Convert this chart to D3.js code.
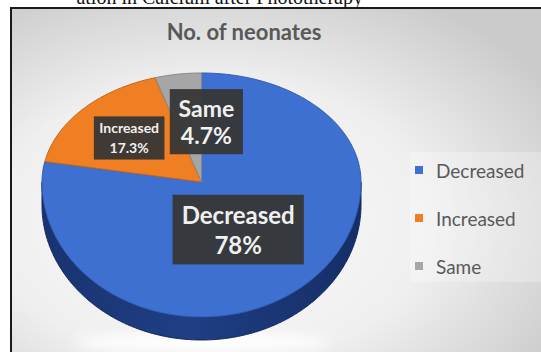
<!DOCTYPE html>
<html>
<head>
<meta charset="utf-8">
<script src="https://cdn.jsdelivr.net/npm/d3@7"></script>
<style>
  html, body { margin: 0; padding: 0; background: #ffffff; overflow: hidden; }
  svg { display: block; }
</style>
</head>
<body>
<svg id="chart" width="541" height="352"></svg>
<script>
// Outcome groups and their share of neonates (%)
const categories = ["Decreased", "Increased", "Same"];
const values = [78, 17.3, 4.7];
const colors = ["#3e70d2", "#f07e22", "#a6a6a6"];
const chartTitle = "No. of neonates";
const caption = "ation in Calcium after Phototherapy";

const W = 541, H = 352;
const svg = d3.select("#chart");
const defs = svg.append("defs");

// caption line above the chart frame
svg.append("text")
  .attr("x", 363).attr("y", 4)
  .attr("text-anchor", "end")
  .attr("font-family", "Liberation Serif, Times New Roman, serif")
  .attr("font-size", 20)
  .attr("fill", "#111")
  .text(caption);

// chart area background
const bg = defs.append("radialGradient").attr("id", "bg")
  .attr("cx", "0.38").attr("cy", "0.62").attr("r", "0.75");
bg.append("stop").attr("offset", "0").attr("stop-color", "#fbfbfb");
bg.append("stop").attr("offset", "0.55").attr("stop-color", "#efefef");
bg.append("stop").attr("offset", "1").attr("stop-color", "#cbcbcb");

const frame = { x: 11, y: 8 };
svg.append("rect")
  .attr("x", frame.x).attr("y", frame.y)
  .attr("width", W - frame.x + 2).attr("height", H - frame.y + 2)
  .attr("fill", "url(#bg)")
  .attr("stroke", "#1a1a1a").attr("stroke-width", 2);

// title
svg.append("text")
  .attr("x", 244).attr("y", 40)
  .attr("text-anchor", "middle")
  .attr("font-family", "Lato, 'Open Sans', sans-serif")
  .attr("font-weight", 700)
  .attr("font-size", 22)
  .attr("fill", "#595959")
  .text(chartTitle);

// ---- 3D pie geometry (perspective: front half taller than back half)
const cx = 201.5, cy = 182, rx = 159.5, ryBack = 109, ryFront = 135, depth = 23;
function proj(a, f, z) {
  const s = Math.sin(a), c = Math.cos(a);
  return [cx + rx * f * s, cy - (c >= 0 ? ryBack : ryFront) * f * c + (z || 0)];
}
function arcPoints(a0, a1, f, z) {
  const n = Math.max(2, Math.ceil(Math.abs(a1 - a0) / 0.01));
  return d3.range(n + 1).map(i => proj(a0 + (a1 - a0) * i / n, f, z));
}

const pie = d3.pie().sort(null).value(d => d).startAngle(0).endAngle(2 * Math.PI);
const arcs = pie(values);

// soft light under the pie
defs.append("filter").attr("id", "soft").attr("x", "-20%").attr("y", "-50%").attr("width", "140%").attr("height", "200%")
  .append("feGaussianBlur").attr("stdDeviation", 6);
svg.append("ellipse")
  .attr("cx", cx).attr("cy", cy + ryFront + depth + 2)
  .attr("rx", rx * 0.8).attr("ry", 10)
  .attr("fill", "#ffffff").attr("opacity", 0.9)
  .attr("filter", "url(#soft)");

// side wall (front half only)
const sideGrad = defs.append("linearGradient").attr("id", "side")
  .attr("gradientUnits", "userSpaceOnUse")
  .attr("x1", cx - rx).attr("x2", cx + rx).attr("y1", 0).attr("y2", 0);
sideGrad.append("stop").attr("offset", "0").attr("stop-color", "#183370");
sideGrad.append("stop").attr("offset", "0.45").attr("stop-color", "#1f3e84");
sideGrad.append("stop").attr("offset", "1").attr("stop-color", "#152e66");

const line = d3.line();
arcs.forEach((d, i) => {
  const a0 = Math.max(d.startAngle, Math.PI / 2);
  const a1 = Math.min(d.endAngle, 3 * Math.PI / 2);
  if (a1 <= a0) return;
  const top = arcPoints(a0, a1, 1, 0);
  const bot = arcPoints(a1, a0, 1, depth);
  svg.append("path")
    .attr("d", line(top.concat(bot)) + "Z")
    .attr("fill", i === 0 ? "url(#side)" : d3.color(colors[i]).darker(1.3))
    .attr("stroke", "#12285a").attr("stroke-width", 1);
});

// top faces
arcs.forEach((d, i) => {
  const pts = [proj(0, 0, 0)].concat(arcPoints(d.startAngle, d.endAngle, 1, 0));
  svg.append("path")
    .attr("d", line(pts) + "Z")
    .attr("fill", colors[i])
    .attr("stroke", d3.color(colors[i]).darker(0.6))
    .attr("stroke-width", 1)
    .attr("stroke-linejoin", "round");
});

// ---- data labels: dark boxes with light text
const fmt = v => (Number.isInteger(v) ? v : v.toFixed(1)) + "%";
const labelLayout = [
  { f: 0.42, dx: -6, dy: 5, size: 24, gap: 30 },
  { f: 0.61, dx: 0, dy: 1, size: 14, gap: 20 },
  { f: 0.56, dx: 18, dy: 1, size: 23, gap: 27 }
];
arcs.forEach((d, i) => {
  const L = labelLayout[i];
  const mid = (d.startAngle + d.endAngle) / 2;
  const [lx, ly] = proj(mid, L.f, 0);
  const x = lx + L.dx, y = ly + L.dy;
  const g = svg.append("g");
  const rect = g.append("rect").attr("fill", "#363636").attr("opacity", 0.95);
  const t = g.append("text")
    .attr("text-anchor", "middle")
    .attr("font-family", "Lato, 'Open Sans', sans-serif")
    .attr("font-weight", 700)
    .attr("font-size", L.size)
    .attr("fill", "#f0f0f0");
  t.append("tspan").attr("x", x).attr("y", y - L.gap / 2 + L.size * 0.35).text(categories[i]);
  t.append("tspan").attr("x", x).attr("y", y + L.gap / 2 + L.size * 0.35).text(fmt(values[i]));
  const bb = t.node().getBBox();
  const px = L.size * 0.38, py = L.size * 0.22;
  rect.attr("x", bb.x - px).attr("y", bb.y - py)
    .attr("width", bb.width + 2 * px).attr("height", bb.height + 2 * py);
});

// ---- legend
const legend = svg.append("g").attr("transform", "translate(410,152)");
legend.append("rect").attr("width", 140).attr("height", 130).attr("fill", "#ffffff").attr("opacity", 0.25);
categories.forEach((c, i) => {
  const gy = 22 + i * 48;
  legend.append("rect").attr("x", 5).attr("y", gy - 8).attr("width", 8).attr("height", 8).attr("fill", colors[i]);
  legend.append("text")
    .attr("x", 26).attr("y", gy + 4)
    .attr("font-family", "Lato, 'Open Sans', sans-serif")
    .attr("font-size", 19)
    .attr("fill", "#595959")
    .text(c);
});
</script>
</body>
</html>
